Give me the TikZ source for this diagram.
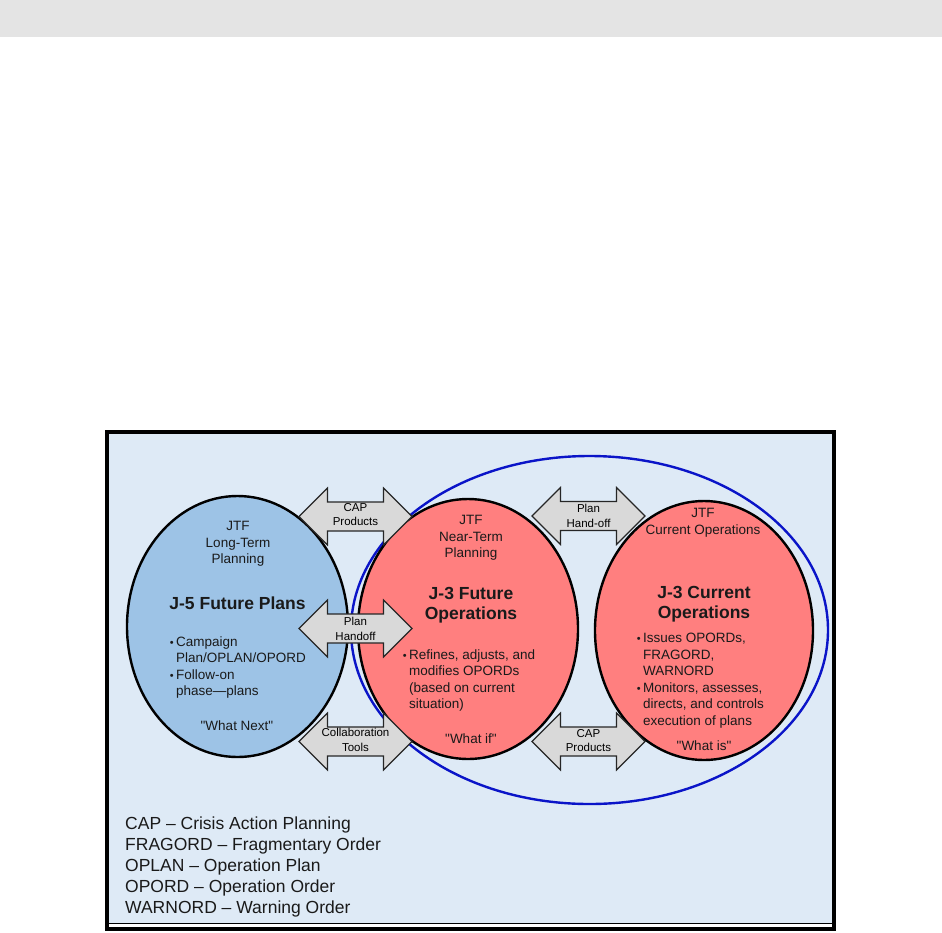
\documentclass[tikz,border=0pt]{standalone}
\usepackage{fontspec}
\setmainfont{Liberation Sans}[Ligatures=TeXOff]
\usetikzlibrary{shapes.geometric}
\definecolor{bgblue}{HTML}{DEEAF6}
\definecolor{jfiveblue}{HTML}{9DC3E6}
\definecolor{jthreered}{HTML}{FF7F7F}
\definecolor{arrgray}{HTML}{D9D9D9}
\definecolor{ringblue}{HTML}{0A14C8}
\definecolor{topgray}{HTML}{E4E4E4}
\definecolor{txt}{HTML}{1A1A1A}
\newcommand\bul{\llap{{\fontsize{11}{11}\selectfont •}\hspace{2.5pt}}}
\begin{document}
\begin{tikzpicture}[x=1pt,y=-1pt,
  oval/.style={ellipse, draw=black, line width=2.4pt, inner sep=0pt},
  body/.style={font=\fontsize{13.5}{16.5}\selectfont, inner sep=0pt, text=txt, execute at begin node=\strut},
  ttl/.style={font=\fontsize{17.5}{20}\selectfont\bfseries, inner sep=0pt, text=txt, align=center, anchor=north, execute at begin node=\strut},
  albl/.style={font=\fontsize{11.5}{14.5}\selectfont, inner sep=0pt, text=black, align=center, anchor=north, execute at begin node=\strut},
  legend/.style={font=\fontsize{17.5}{21}\selectfont, inner sep=0pt, text=txt, align=left, anchor=north west, execute at begin node=\strut},
  blockarrow/.pic={
    \draw[fill=arrgray, draw=black!85, line width=1.1pt, line join=miter]
      (-56.5,0) -- (-28,-28.5) -- (-28,-14.5) -- (28,-14.5) -- (28,-28.5)
      -- (56.5,0) -- (28,28.5) -- (28,14.5) -- (-28,14.5) -- (-28,28.5) -- cycle;
  }]
\useasboundingbox (0,0) rectangle (942,932);
\fill[white] (0,0) rectangle (942,932);
\fill[topgray] (0,0) rectangle (942,37);
% frame
\fill[bgblue] (107,432) rectangle (834,923);
\draw[line width=1pt] (107,923.5) -- (834,923.5);
\draw[line width=4pt] (107,432) rectangle (834,929);
% ring
\node (ring) [ellipse, draw=ringblue, line width=2.4pt, minimum width=477pt, minimum height=348pt] at (589.5,630) {};
% ovals
\node (jfive) [oval, fill=jfiveblue, minimum width=221pt, minimum height=261pt] at (237.5,626.5) {};
\node (jfut) [oval, fill=jthreered, minimum width=220pt, minimum height=260pt] at (468,629) {};
\node (jcur) [oval, fill=jthreered, minimum width=218pt, minimum height=259pt] at (704,630.5) {};
% arrows
\pic at (355.5,516.5) {blockarrow};
\pic at (355.5,628.5) {blockarrow};
\pic at (355.5,741.5) {blockarrow};
\pic at (588.5,516) {blockarrow};
\pic at (588.5,741.5) {blockarrow};
\node (a1) [albl] at (355.5,503) {CAP\\Products};
\node (a2) [albl] at (355.5,617) {Plan\\Handoff};
\node (a3) [albl] at (355.5,728) {Collaboration\\Tools};
\node (a4) [albl] at (588.5,504) {Plan\\Hand-off};
\node (a5) [albl] at (588.5,729) {CAP\\Products};
% J-5 texts
\node (h1) [body, align=center, anchor=north] at (238,521.3) {JTF\\Long-Term\\Planning};
\node (t1) [ttl] at (237.5,595.3) {J-5 Future Plans};
\node (b1) [body, align=left, anchor=north west] at (176,636.3) {\bul Campaign\\Plan/OPLAN/OPORD\\\bul Follow-on\\phase—plans};
\node (q1) [body, anchor=north] at (237,718.3) {"What Next"};
% J-3 future texts
\node (h2) [body, align=center, anchor=north] at (471,515.3) {JTF\\Near-Term\\Planning};
\node (t2) [ttl] at (471,587.3) {J-3 Future\\Operations};
\node (b2) [body, align=left, anchor=north west] at (409,649.3) {\bul Refines, adjusts, and\\modifies OPORDs\\(based on current\\situation)};
\node (q2) [body, anchor=north] at (471,731.3) {"What if"};
% J-3 current texts
\node (h3) [body, align=center, anchor=north] at (703,508.3) {JTF\\Current Operations};
\node (t3) [ttl] at (704,586.3) {J-3 Current\\Operations};
\node (b3) [body, align=left, anchor=north west] at (643,633.3) {\bul Issues OPORDs,\\FRAGORD,\\WARNORD\\\bul Monitors, assesses,\\directs, and controls\\execution of plans};
\node (q3) [body, anchor=north] at (704,738.3) {"What is"};
% legend
\node (lg) [legend] at (125,816.6) {CAP – Crisis Action Planning\\FRAGORD – Fragmentary Order\\OPLAN – Operation Plan\\OPORD – Operation Order\\WARNORD – Warning Order};
\end{tikzpicture}
\end{document}
